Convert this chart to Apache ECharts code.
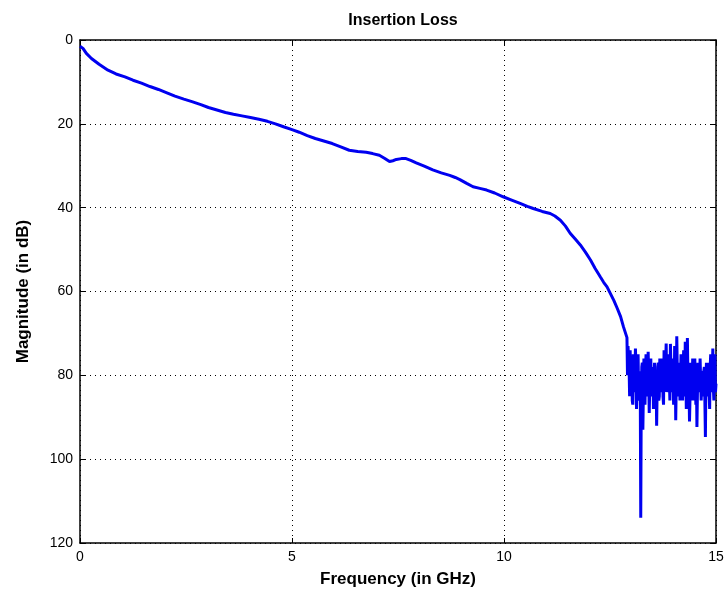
<!DOCTYPE html>
<html>
<head>
<meta charset="utf-8">
<script src="https://cdn.jsdelivr.net/npm/echarts@6/dist/echarts.min.js"></script>
<style>
html,body{margin:0;padding:0;background:#fff;}
#c{width:728px;height:595px;}
</style>
</head>
<body>
<div id="c"></div>
<script>
const titleText = 'Insertion Loss';
const xName = 'Frequency (in GHz)';
const yName = 'Magnitude (in dB)';
const xTicks = [0, 5, 10, 15];
const yTicks = [0, 20, 40, 60, 80, 100, 120];

// Smooth part of the trace (GHz, dB)
const freqSmooth = [0, 0.07, 0.15, 0.27, 0.45, 0.66, 0.85, 1.06, 1.25, 1.45, 1.65, 1.85, 2.05, 2.24, 2.45, 2.64, 2.85, 3.03, 3.23, 3.43, 3.62, 3.82, 4.02, 4.22, 4.42, 4.61, 4.8, 5.0, 5.17, 5.36, 5.55, 5.75, 5.95, 6.15, 6.35, 6.55, 6.75, 6.9, 7.06, 7.18, 7.3, 7.38, 7.46, 7.58, 7.69, 7.8, 7.93, 8.12, 8.32, 8.52, 8.72, 8.85, 8.96, 9.12, 9.27, 9.43, 9.59, 9.78, 9.98, 10.18, 10.38, 10.55, 10.69, 10.9, 11.09, 11.2, 11.33, 11.45, 11.56, 11.68, 11.8, 11.92, 12.04, 12.15, 12.27, 12.35, 12.43, 12.51, 12.59, 12.67, 12.75, 12.82, 12.9];
const magSmooth = [1.5, 2, 3.2, 4.4, 5.8, 7.2, 8.1, 8.8, 9.6, 10.3, 11.1, 11.8, 12.6, 13.4, 14.1, 14.7, 15.4, 16.1, 16.7, 17.3, 17.7, 18.1, 18.5, 18.9, 19.4, 20, 20.7, 21.4, 22, 22.8, 23.5, 24.1, 24.7, 25.5, 26.3, 26.6, 26.8, 27.1, 27.5, 28.2, 29, 28.8, 28.5, 28.3, 28.3, 28.7, 29.3, 30.1, 31, 31.7, 32.3, 32.8, 33.3, 34.2, 35, 35.4, 35.8, 36.5, 37.4, 38.2, 39, 39.7, 40.2, 40.9, 41.4, 42, 43, 44.4, 46.1, 47.5, 48.9, 50.6, 52.5, 54.5, 56.5, 57.8, 58.9, 60.5, 62.1, 64, 66, 68.5, 71];

// Noisy tail, read as extremes (GHz, dB)
const freqNoiseA = [12.925, 12.95, 12.975, 13.0, 13.025, 13.05, 13.075, 13.1, 13.125, 13.15, 13.175, 13.2, 13.225, 13.25, 13.275, 13.3, 13.325, 13.35, 13.375, 13.4, 13.425, 13.45, 13.475, 13.5, 13.525, 13.55, 13.575, 13.6, 13.625, 13.65, 13.675, 13.7, 13.725, 13.75, 13.775, 13.8, 13.825, 13.85, 13.875, 13.9, 13.925, 13.95, 13.975, 14.0, 14.025, 14.05, 14.075, 14.1, 14.125, 14.15, 14.175, 14.2, 14.225, 14.25, 14.275, 14.3, 14.325, 14.35, 14.375, 14.4, 14.425, 14.45, 14.475, 14.5, 14.525, 14.55, 14.575, 14.6, 14.625, 14.65, 14.675, 14.7, 14.725, 14.75, 14.775, 14.8, 14.825, 14.85, 14.875, 14.9, 14.925, 14.95, 14.975, 15.0];
const magNoiseA = [73, 78, 74, 82, 86, 75, 84, 73.6, 88, 76, 85, 80, 114, 78, 93, 76, 87, 75, 84, 74.4, 89, 77, 85, 78, 88, 77, 83, 92, 78, 86, 76, 84, 77, 85, 74, 83.5, 72.4, 82, 75, 81, 72.5, 84, 76, 87, 73, 90.7, 70.7, 85, 77, 86, 75, 83, 78, 85, 72, 88, 71.1, 84, 91, 77, 86, 76, 82, 76, 87, 92.3, 77, 84, 76, 86, 79, 83, 78, 94.7, 77, 85, 79, 88, 75, 84, 73.6, 86, 75, 82];
// Noisy tail, in-between samples filling the band (GHz, dB)
const freqNoiseB = [12.9125, 12.9375, 12.9625, 12.9875, 13.0125, 13.0375, 13.0625, 13.0875, 13.1125, 13.1375, 13.1625, 13.1875, 13.2125, 13.2375, 13.2625, 13.2875, 13.3125, 13.3375, 13.3625, 13.3875, 13.4125, 13.4375, 13.4625, 13.4875, 13.5125, 13.5375, 13.5625, 13.5875, 13.6125, 13.6375, 13.6625, 13.6875, 13.7125, 13.7375, 13.7625, 13.7875, 13.8125, 13.8375, 13.8625, 13.8875, 13.9125, 13.9375, 13.9625, 13.9875, 14.0125, 14.0375, 14.0625, 14.0875, 14.1125, 14.1375, 14.1625, 14.1875, 14.2125, 14.2375, 14.2625, 14.2875, 14.3125, 14.3375, 14.3625, 14.3875, 14.4125, 14.4375, 14.4625, 14.4875, 14.5125, 14.5375, 14.5625, 14.5875, 14.6125, 14.6375, 14.6625, 14.6875, 14.7125, 14.7375, 14.7625, 14.7875, 14.8125, 14.8375, 14.8625, 14.8875, 14.9125, 14.9375, 14.9625, 14.9875];
const magNoiseB = [80, 76, 85, 79, 77, 87, 79, 84, 78, 82, 75, 86, 79, 85, 77, 84, 82, 79, 77, 85, 80, 83, 76, 84, 79, 81, 86, 80, 83, 77, 85, 78, 82, 76, 87, 79, 77, 84, 80, 76, 86, 78, 83, 80, 85, 76, 82, 79, 84, 78, 81, 76, 86, 74, 84, 77, 86, 80, 82, 85, 79, 84, 78, 86, 81, 80, 84, 78, 83, 76, 82, 85, 79, 86, 80, 83, 77, 84, 78, 82, 80, 83, 79, 84];

const pts = [];
freqSmooth.forEach((f, i) => pts.push([f, magSmooth[i]]));
freqNoiseA.forEach((f, i) => pts.push([f, magNoiseA[i]]));
freqNoiseB.forEach((f, i) => pts.push([f, magNoiseB[i]]));
pts.sort((a, b) => a[0] - b[0]);

const chart = echarts.init(document.getElementById('c'));
const fontFam = '"Liberation Sans", Arial, sans-serif';
const tickStyle = {show: true, inside: true, length: 5, lineStyle: {color: '#000', width: 1}};
const lineStyleAxis = {show: true, onZero: false, lineStyle: {color: '#000', width: 1.5}};
const gridStyle = {show: true, lineStyle: {color: '#000', type: [1, 4], width: 1}};
chart.setOption({
  backgroundColor: '#ffffff',
  animation: false,
  title: {
    text: titleText,
    left: 398, top: 8, textAlign: 'center',
    textStyle: {fontFamily: fontFam, fontSize: 16, fontWeight: 'bold', color: '#000'}
  },
  grid: {left: 80, right: 12, top: 40, bottom: 52, show: false, containLabel: false, outerBoundsMode: 'none'},
  xAxis: [{
    type: 'value', position: 'bottom', min: xTicks[0], max: xTicks[xTicks.length - 1], interval: 5,
    name: xName, nameLocation: 'middle', nameGap: 28,
    nameTextStyle: {fontFamily: fontFam, fontSize: 17, fontWeight: 'bold', color: '#000'},
    axisLine: lineStyleAxis, axisTick: tickStyle,
    axisLabel: {fontFamily: fontFam, fontSize: 14, color: '#000', margin: 7},
    splitLine: gridStyle
  }, {
    type: 'value', position: 'top', min: xTicks[0], max: xTicks[xTicks.length - 1], interval: 5,
    axisLine: lineStyleAxis, axisTick: tickStyle, axisLabel: {show: false}, splitLine: {show: false}
  }],
  yAxis: [{
    type: 'value', position: 'left', inverse: true, min: yTicks[0], max: yTicks[yTicks.length - 1], interval: 20,
    name: yName, nameLocation: 'middle', nameGap: 48, nameRotate: 90,
    nameTextStyle: {fontFamily: fontFam, fontSize: 17, fontWeight: 'bold', color: '#000'},
    axisLine: lineStyleAxis, axisTick: tickStyle,
    axisLabel: {fontFamily: fontFam, fontSize: 14, color: '#000', margin: 7},
    splitLine: gridStyle
  }, {
    type: 'value', position: 'right', inverse: true, min: yTicks[0], max: yTicks[yTicks.length - 1], interval: 20,
    axisLine: lineStyleAxis, axisTick: tickStyle, axisLabel: {show: false}, splitLine: {show: false}
  }],
  series: [{
    type: 'line', data: pts, showSymbol: false, symbol: 'none',
    lineStyle: {color: '#0000f0', width: 3}
  }]
});
</script>
</body>
</html>
